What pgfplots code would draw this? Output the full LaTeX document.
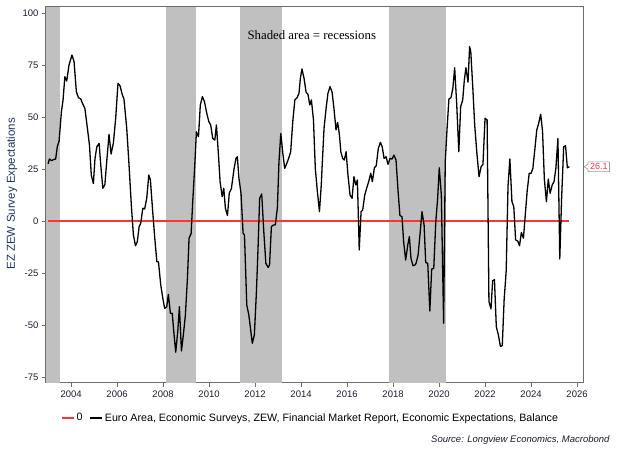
\documentclass[border=0pt]{standalone}
\usepackage{pgfplots}
\pgfplotsset{compat=1.18}
\usepackage{fontspec}
\setmainfont{Liberation Sans}
\newfontfamily\serifcaption{Liberation Serif}
\definecolor{recgray}{RGB}{192,192,192}
\definecolor{zred}{RGB}{255,51,51}
\definecolor{ticknavy}{RGB}{25,28,48}
\definecolor{labnavy}{RGB}{31,50,95}
\definecolor{framegray}{RGB}{110,110,110}
\begin{document}
\begin{tikzpicture}
\useasboundingbox (0,0) rectangle (621pt,454pt);
\begin{axis}[
  at={(46pt,71pt)}, anchor=south west,
  width=537pt, height=376pt, scale only axis,
  xmin=2002.91, xmax=2026.26,
  ymin=-77.9, ymax=102.9,
  xtick={2004,2006,...,2026},
  ytick={-75,-50,-25,0,25,50,75,100},
  /pgf/number format/assume math mode=true,
  /pgf/number format/1000 sep={},
  tick align=outside,
  xtick pos=bottom, ytick pos=left,
  major tick length=4pt,
  tick style={color=framegray, line width=0.8pt},
  ticklabel style={font=\fontsize{9.5}{11}\selectfont, text=ticknavy},
  axis line style={color=framegray, line width=1pt},
  ylabel={EZ ZEW Survey Expectations},
  ylabel style={at={(axis description cs:-0.0633,0.503)}, anchor=center, font=\fontsize{11.5}{13}\selectfont, text=labnavy},
  clip=false,
  legend columns=2,
  legend cell align=left,
  legend style={at={(axis description cs:0.028,-0.093)}, anchor=west, draw=none, fill=none,
    font=\fontsize{10.7}{12}\selectfont, inner sep=0pt,
    /tikz/every even column/.append style={column sep=5pt}},
  legend image code/.code={\draw[#1] (0pt,0pt) -- (12pt,0pt);},
]
% recessions
\addplot[fill=recgray, draw=none, forget plot] coordinates {(2002.91,-77.9) (2002.91,102.9) (2003.52,102.9) (2003.52,-77.9)} -- cycle;
\addplot[fill=recgray, draw=none, forget plot] coordinates {(2008.12,-77.9) (2008.12,102.9) (2009.42,102.9) (2009.42,-77.9)} -- cycle;
\addplot[fill=recgray, draw=none, forget plot] coordinates {(2011.35,-77.9) (2011.35,102.9) (2013.16,102.9) (2013.16,-77.9)} -- cycle;
\addplot[fill=recgray, draw=none, forget plot] coordinates {(2017.84,-77.9) (2017.84,102.9) (2020.30,102.9) (2020.30,-77.9)} -- cycle;
% zero line
\addplot[color=zred, line width=1.4pt] coordinates {(2003.0,0) (2025.67,0)};
\addlegendentry{0}
% ZEW series
\addplot[color=black, line width=1.3pt, line join=round] coordinates {
(2003.00,27.5) (2003.06,29.8) (2003.15,29.0) (2003.25,29.6) (2003.33,29.8) (2003.40,35.7)
(2003.48,38.5) (2003.58,52.6) (2003.65,58.0) (2003.73,69.4) (2003.81,67.3) (2003.91,75.0)
(2004.04,79.8) (2004.13,76.6) (2004.23,62.2) (2004.32,59.3) (2004.42,58.7) (2004.50,56.5)
(2004.60,54.2) (2004.71,44.6) (2004.80,36.5) (2004.88,22.0) (2004.97,18.0)
(2005.04,30.0) (2005.12,35.7) (2005.22,37.3) (2005.29,27.0) (2005.38,15.7) (2005.47,17.5)
(2005.55,28.5) (2005.65,41.7) (2005.74,32.2) (2005.84,37.5) (2005.94,49.4)
(2006.04,66.2) (2006.13,65.0) (2006.23,60.6) (2006.30,58.7) (2006.42,44.6) (2006.52,27.0)
(2006.62,7.7) (2006.71,-6.7) (2006.80,-11.9) (2006.88,-10.0) (2006.96,-2.7)
(2007.03,-1.1) (2007.12,6.1) (2007.20,5.8) (2007.29,10.9) (2007.38,22.1) (2007.45,19.7)
(2007.55,4.5) (2007.64,-8.3) (2007.73,-19.6) (2007.80,-19.6) (2007.90,-30.8) (2007.99,-37.2)
(2008.07,-42.0) (2008.16,-41.3) (2008.23,-35.3) (2008.32,-44.4) (2008.40,-44.4) (2008.46,-52.4)
(2008.55,-63.1) (2008.64,-53.0) (2008.71,-41.2) (2008.80,-62.5) (2008.88,-55.0) (2008.97,-45.3)
(2009.06,-27.6) (2009.13,-8.3) (2009.22,-6.0) (2009.29,9.3) (2009.38,27.0) (2009.45,42.9)
(2009.54,40.5) (2009.62,55.8) (2009.71,59.8) (2009.80,57.4) (2009.90,51.8) (2009.99,47.8)
(2010.07,46.2) (2010.16,39.7) (2010.25,38.9) (2010.32,46.2) (2010.40,33.3) (2010.48,18.9)
(2010.57,11.7) (2010.64,15.7) (2010.71,6.1) (2010.80,2.6) (2010.88,13.5) (2010.97,15.5)
(2011.09,25.3) (2011.17,30.1) (2011.23,30.9) (2011.30,20.5) (2011.39,13.3) (2011.48,-5.9)
(2011.54,-6.7) (2011.64,-40.4) (2011.73,-45.2) (2011.80,-51.6) (2011.88,-58.8) (2011.97,-54.8)
(2012.06,-34.0) (2012.13,-13.1) (2012.20,10.9) (2012.29,13.0) (2012.38,-5.1) (2012.47,-20.4)
(2012.57,-22.3) (2012.63,-21.2) (2012.71,-2.7) (2012.80,-1.9) (2012.88,-1.9) (2012.97,6.1)
(2013.04,28.5) (2013.12,42.1) (2013.20,33.3) (2013.29,25.3) (2013.38,27.7) (2013.46,30.1)
(2013.55,33.3) (2013.64,47.8) (2013.73,58.2) (2013.83,59.3) (2013.91,61.4) (2013.97,68.6)
(2014.04,73.1) (2014.13,68.6) (2014.22,61.9) (2014.30,60.9) (2014.38,55.8) (2014.45,58.2)
(2014.54,48.6) (2014.62,25.3) (2014.71,14.1) (2014.80,4.5) (2014.88,17.5) (2014.92,27.0)
(2015.00,44.6) (2015.09,54.2) (2015.17,61.4) (2015.26,64.6) (2015.35,62.0) (2015.43,54.2)
(2015.52,43.8) (2015.59,47.4) (2015.67,41.3) (2015.73,33.3) (2015.81,30.1) (2015.88,29.3)
(2015.96,33.3) (2016.04,22.1) (2016.13,12.5) (2016.22,10.9) (2016.30,21.3) (2016.38,17.3)
(2016.45,19.7) (2016.53,-13.9) (2016.61,4.5) (2016.68,5.3) (2016.77,12.5) (2016.86,16.0)
(2016.94,18.9) (2017.03,22.9) (2017.10,18.9) (2017.19,25.6) (2017.27,26.6) (2017.36,34.9)
(2017.45,37.8) (2017.53,35.7) (2017.61,30.1) (2017.70,30.9) (2017.78,27.2) (2017.87,30.1)
(2017.96,29.8) (2018.04,31.7) (2018.13,29.3) (2018.22,14.1) (2018.30,2.6) (2018.39,2.1)
(2018.46,-9.9) (2018.55,-18.8) (2018.64,-11.5) (2018.71,-7.5) (2018.78,-18.0) (2018.87,-21.5)
(2018.95,-21.2) (2019.00,-20.4) (2019.09,-16.3) (2019.17,-6.7) (2019.26,4.5) (2019.35,-1.9)
(2019.42,-19.9) (2019.51,-20.4) (2019.60,-43.3) (2019.68,-23.1) (2019.77,-22.8) (2019.86,-0.3)
(2019.94,10.9) (2020.01,25.6) (2020.10,12.5) (2020.20,-49.2) (2020.27,28.5) (2020.35,44.6)
(2020.43,58.7) (2020.52,59.3) (2020.60,63.8) (2020.68,73.7) (2020.77,55.8) (2020.86,33.3)
(2020.94,55.0) (2021.03,58.2) (2021.10,67.8) (2021.17,73.7) (2021.26,66.7) (2021.33,83.8)
(2021.38,81.4) (2021.47,63.8) (2021.55,46.2) (2021.64,33.3) (2021.74,21.3) (2021.83,26.1)
(2021.91,27.2) (2022.00,49.4) (2022.09,48.6) (2022.17,-38.8) (2022.26,-42.3) (2022.33,-28.7)
(2022.41,-28.2) (2022.49,-50.8) (2022.58,-54.8) (2022.67,-60.4) (2022.75,-59.9) (2022.83,-38.0)
(2022.92,-24.0) (2023.00,17.0) (2023.08,29.8) (2023.17,9.3) (2023.25,6.9) (2023.33,-9.1)
(2023.42,-9.6) (2023.50,-11.9) (2023.58,-5.5) (2023.67,-8.3) (2023.75,2.9) (2023.83,14.1)
(2023.92,22.9) (2024.00,22.9) (2024.08,25.3) (2024.17,34.9) (2024.25,43.8) (2024.33,46.9)
(2024.42,51.3) (2024.50,43.3) (2024.58,20.0) (2024.67,9.3) (2024.75,20.2) (2024.83,13.3)
(2024.92,17.3) (2025.00,18.9) (2025.08,25.3) (2025.17,39.7) (2025.25,-18.3) (2025.33,10.9)
(2025.42,35.7) (2025.50,36.2) (2025.58,25.6) (2025.67,26.1)
};
\addlegendentry{Euro Area, Economic Surveys, ZEW, Financial Market Report, Economic Expectations, Balance}
% caption inside
\node[font=\serifcaption\fontsize{12.8}{14}\selectfont, text=black] at (axis description cs:0.495,0.9255) {Shaded area = recessions};
% last value callout
\node[anchor=west, text=zred, font=\fontsize{9}{10}\selectfont, inner xsep=1.8pt, inner ysep=1.5pt] (lab) at ([xshift=5pt]axis cs:2026.26,26.1) {26.1};
\draw[color=gray!80, line width=0.6pt] ([yshift=-2.5pt]lab.west) -- (lab.south west) -- (lab.south east) -- (lab.north east) -- (lab.north west) -- ([yshift=2.5pt]lab.west) -- ([xshift=-4pt]lab.west) -- cycle;
\end{axis}
\node[anchor=east, font=\itshape\fontsize{9.5}{11}\selectfont, text=ticknavy] at (613pt,14pt) {Source: Longview Economics, Macrobond};
\end{tikzpicture}
\end{document}
